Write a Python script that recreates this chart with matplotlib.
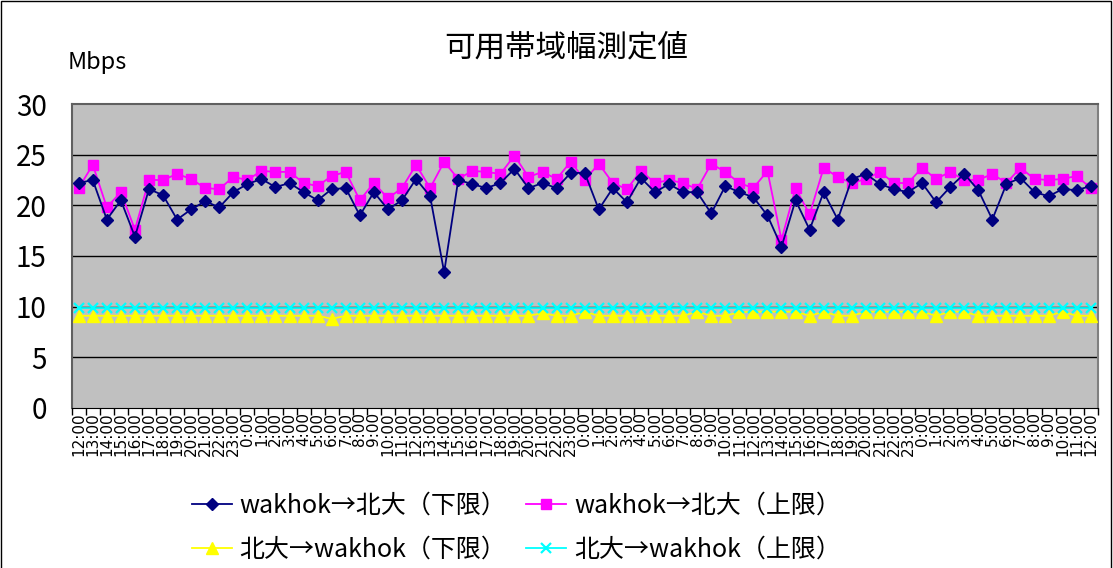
import matplotlib
matplotlib.use('Agg')
import matplotlib.pyplot as plt
from matplotlib.patches import Rectangle

plt.rcParams['font.family'] = ['Noto Sans CJK JP', 'DejaVu Sans']

# hourly labels, 12:00 on day 1 to 12:00 on day 4
hours = ['12:00', '13:00', '14:00', '15:00', '16:00', '17:00', '18:00', '19:00', '20:00', '21:00', '22:00', '23:00',
         '0:00', '1:00', '2:00', '3:00', '4:00', '5:00', '6:00', '7:00', '8:00', '9:00', '10:00', '11:00',
         '12:00', '13:00', '14:00', '15:00', '16:00', '17:00', '18:00', '19:00', '20:00', '21:00', '22:00', '23:00',
         '0:00', '1:00', '2:00', '3:00', '4:00', '5:00', '6:00', '7:00', '8:00', '9:00', '10:00', '11:00',
         '12:00', '13:00', '14:00', '15:00', '16:00', '17:00', '18:00', '19:00', '20:00', '21:00', '22:00', '23:00',
         '0:00', '1:00', '2:00', '3:00', '4:00', '5:00', '6:00', '7:00', '8:00', '9:00', '10:00', '11:00', '12:00']

# wakhok -> 北大 (lower / upper), Mbps
w2h_low = [22.2, 22.5, 18.6, 20.5, 16.9, 21.6, 21.0, 18.6, 19.6, 20.4, 19.8, 21.3,
           22.1, 22.6, 21.8, 22.2, 21.3, 20.5, 21.6, 21.7, 19.0, 21.3, 19.6, 20.5,
           22.6, 20.9, 13.4, 22.5, 22.1, 21.7, 22.2, 23.6, 21.7, 22.2, 21.7, 23.2,
           23.2, 19.6, 21.7, 20.3, 22.7, 21.3, 22.1, 21.3, 21.3, 19.2, 21.9, 21.3,
           20.8, 19.0, 15.9, 20.5, 17.6, 21.3, 18.6, 22.6, 23.1, 22.1, 21.6, 21.3,
           22.2, 20.3, 21.8, 23.1, 21.5, 18.6, 22.1, 22.7, 21.3, 20.9, 21.6, 21.5, 21.9]
w2h_up = [21.7, 24.0, 19.8, 21.3, 17.6, 22.5, 22.5, 23.1, 22.6, 21.7, 21.6, 22.8,
          22.5, 23.4, 23.3, 23.3, 22.2, 21.9, 22.9, 23.3, 20.5, 22.2, 20.7, 21.7,
          24.0, 21.7, 24.3, 22.6, 23.4, 23.3, 23.1, 24.9, 22.8, 23.3, 22.6, 24.3,
          22.5, 24.1, 22.2, 21.6, 23.4, 22.2, 22.5, 22.2, 21.6, 24.1, 23.3, 22.2,
          21.7, 23.4, 16.6, 21.7, 19.1, 23.7, 22.8, 22.2, 22.6, 23.3, 22.2, 22.2,
          23.7, 22.6, 23.3, 22.5, 22.5, 23.1, 22.2, 23.7, 22.6, 22.5, 22.6, 22.9, 21.7]

# 北大 -> wakhok (lower / upper)
h2w_low = [9.1, 9.1, 9.1, 9.1, 9.1, 9.1, 9.1, 9.1, 9.1, 9.1, 9.1, 9.1,
           9.1, 9.1, 9.1, 9.1, 9.1, 9.1, 8.8, 9.1, 9.1, 9.1, 9.1, 9.1,
           9.1, 9.1, 9.1, 9.1, 9.1, 9.1, 9.1, 9.1, 9.1, 9.35, 9.1, 9.1,
           9.5, 9.1, 9.1, 9.1, 9.1, 9.1, 9.1, 9.1, 9.5, 9.1, 9.1, 9.45,
           9.5, 9.5, 9.5, 9.5, 9.1, 9.5, 9.1, 9.1, 9.5, 9.5, 9.5, 9.5,
           9.5, 9.1, 9.5, 9.5, 9.1, 9.1, 9.1, 9.1, 9.1, 9.1, 9.5, 9.1, 9.1]
h2w_up = [9.9] * 73

x = list(range(len(hours)))

fig = plt.figure(figsize=(11.13, 5.68), dpi=100)
ax = fig.add_axes([0.0644, 0.2817, 0.9219, 0.5352])
ax.set_facecolor('#c0c0c0')

l1, = ax.plot(x, w2h_low, color='#000080', lw=1.3, marker='D', ms=6.5, label='wakhok→北大（下限）', zorder=5)
l2, = ax.plot(x, w2h_up, color='#ff00ff', lw=1.3, marker='s', ms=7.5, label='wakhok→北大（上限）', zorder=4)
l3, = ax.plot(x, h2w_low, color='#ffff00', lw=1.3, marker='^', ms=8.5, label='北大→wakhok（下限）', zorder=3)
l4, = ax.plot(x, h2w_up, color='#00ffff', lw=1.3, marker='x', ms=7, mew=1.6, label='北大→wakhok（上限）', zorder=3)

ax.set_xlim(-0.5, len(hours) - 0.5)
ax.set_ylim(0, 30)
ax.set_yticks([0, 5, 10, 15, 20, 25, 30])
ax.tick_params(axis='y', length=0, labelsize=20, pad=18)
for g in [5, 10, 15, 20, 25]:
    ax.axhline(g, color='black', lw=1, zorder=1)

# category boundaries get the tick marks, labels sit in the middle
ax.set_xticks([i - 0.5 for i in range(len(hours) + 1)])
ax.set_xticklabels([])
ax.tick_params(axis='x', which='major', length=5, width=1, direction='out')
ax.set_xticks(x, minor=True)
ax.set_xticklabels(hours, minor=True, rotation=90, fontsize=11, family='DejaVu Sans')
ax.tick_params(axis='x', which='minor', length=0, pad=3)

ax.spines['left'].set_color('#606060')
ax.spines['left'].set_linewidth(1.5)
ax.spines['top'].set_color('#606060')
ax.spines['top'].set_linewidth(1.5)
ax.spines['right'].set_color('#808080')
ax.spines['right'].set_linewidth(1.5)
ax.spines['bottom'].set_color('black')

fig.text(566 / 1113, 1 - 48 / 568, '可用帯域幅測定値', ha='center', va='center', fontsize=22)
fig.text(68 / 1113, 1 - 62 / 568, 'Mbps', ha='left', va='center', fontsize=17)

fig.legend(handles=[l1, l3, l2, l4], loc='upper left', bbox_to_anchor=(192 / 1113, 1 - 493 / 568), ncol=2,
           frameon=False, fontsize=18, handlelength=1.6, handletextpad=0.3, columnspacing=0.8,
           labelspacing=0.72, borderpad=0, borderaxespad=0)

fig.patches.append(Rectangle((0.001, -0.1), 0.997, 1.098, transform=fig.transFigure,
                             fill=False, edgecolor='black', lw=1))

fig.savefig('out.png', dpi=100)
